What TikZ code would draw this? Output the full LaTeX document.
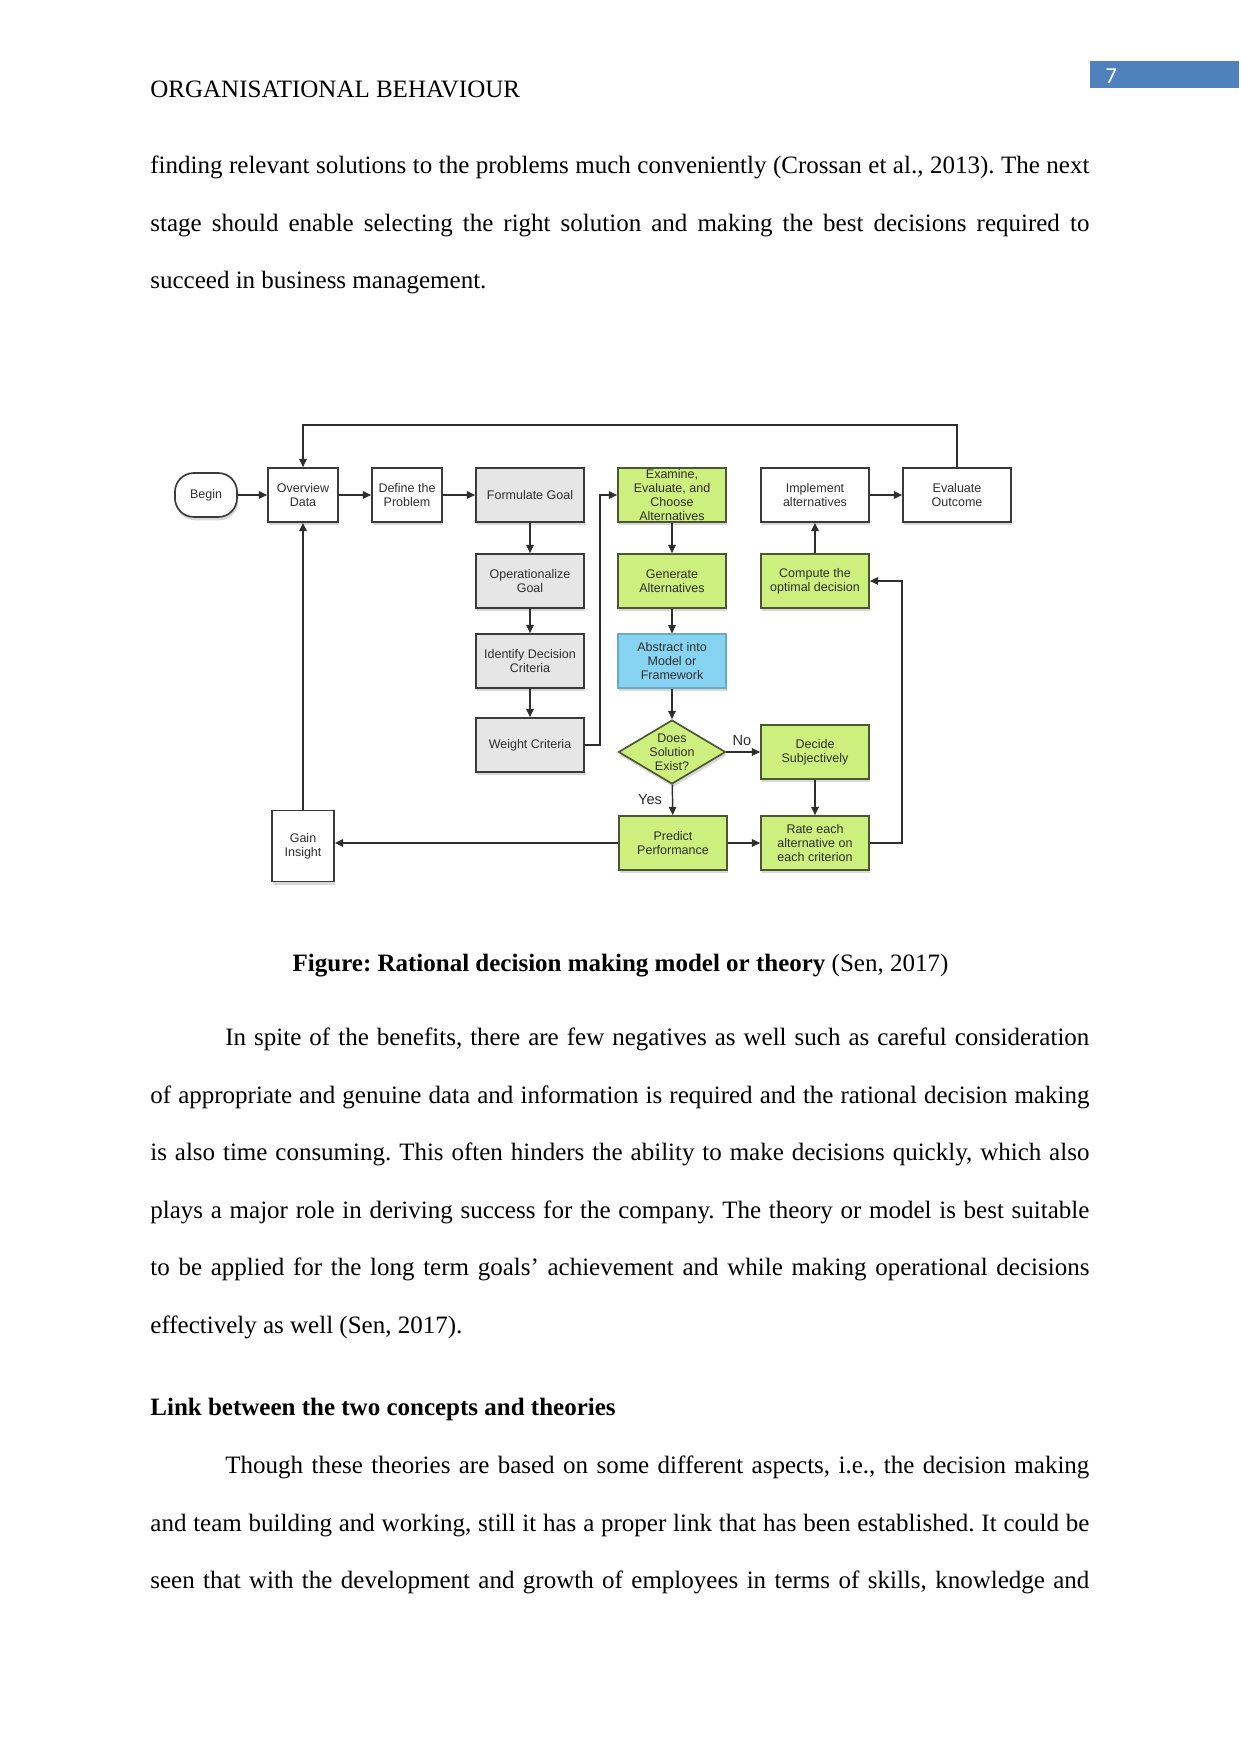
\documentclass[tikz,border=0pt]{standalone}
\usepackage{fontspec}
\setmainfont{Liberation Serif}
\newfontfamily\flowfont{Liberation Sans}
\newfontfamily\pagefont{Carlito}
\usepackage{xcolor}
\usepackage{tikz}
\usetikzlibrary{shapes.geometric,arrows.meta,shadows}
\definecolor{okfill}{HTML}{CDEF7D}
\definecolor{okedge}{HTML}{4B5635}
\definecolor{skyfill}{HTML}{86D3F2}
\definecolor{greyfill}{HTML}{E6E6E6}
\definecolor{edge}{HTML}{3A3A3A}
\definecolor{ink}{HTML}{2E2E2E}
\definecolor{pageblue}{HTML}{4F81BD}
\newcommand{\firstline}{\rule{0pt}{12pt}}
\tolerance=10000
\hyphenpenalty=10000
\frenchspacing

\begin{document}
\begin{tikzpicture}[
    x=0.48pt, y=-0.48pt,
    box/.style={draw=edge,line width=0.8pt,fill=white,minimum width=51.84pt,minimum height=25.92pt,inner sep=0pt,align=center,text=ink,font=\flowfont\fontsize{6}{6.8}\selectfont,drop shadow={shadow xshift=0.6pt,shadow yshift=-1.6pt,opacity=0.3}},
    nbox/.style={box,minimum width=33.6pt},
    gbox/.style={box,fill=greyfill},
    okbox/.style={box,fill=okfill,draw=okedge},
    abox/.style={box,fill=skyfill,draw=skyfill!80!black,line width=0.5pt},
    entry/.style={box,minimum width=29.76pt,minimum height=21.12pt,rounded corners=9pt},
    test/.style={box,diamond,fill=okfill,draw=okedge,shape aspect=1.7,inner sep=-2pt,minimum width=51.4pt,minimum height=30.7pt},
    flag/.style={inner sep=0pt,text=ink,font=\flowfont\fontsize{7}{8}\selectfont},
    arrow/.style={-{Triangle[length=4pt,width=3.6pt]},line width=0.7pt,draw=ink},
    textblock/.style={anchor=north west,inner sep=0pt,text width=450.7pt,align=justify,font=\fontsize{12}{27.65}\selectfont}
  ]
    \useasboundingbox (0,0) rectangle (1241,1754);
    \fill[white] (0,0) rectangle (1241,1754);

    % page head
    \fill[pageblue] (1090,61) rectangle (1239,88);
    \node[anchor=base west,inner sep=0pt,text=white,font=\pagefont\fontsize{11}{12}\selectfont] (pageno) at (1105,83) {7};
    \node[anchor=base west,inner sep=0pt,font=\fontsize{12}{14}\selectfont] (header) at (150,97) {ORGANISATIONAL BEHAVIOUR};

    \node[textblock] (para1) at (150,148) {\noindent\firstline finding relevant solutions to the problems much conveniently (Crossan et al., 2013). The next\linebreak
      stage should enable selecting the right solution and making the best decisions required to\linebreak
      succeed in business management.};

    % flow chart
    \node[entry] (begin) at (206,495) {Begin};
    \node[nbox] (overview) at (303,495) {Overview\\Data};
    \node[nbox] (define) at (407,495) {Define the\\Problem};
    \node[gbox] (goal) at (530,495) {Formulate Goal};
    \node[gbox] (opgoal) at (530,581) {Operationalize\\Goal};
    \node[gbox] (criteria) at (530,661) {Identify Decision\\Criteria};
    \node[gbox] (weight) at (530,745) {Weight Criteria};

    \node[okbox] (examine) at (672,495) {Examine,\\Evaluate, and\\Choose\\Alternatives};
    \node[okbox] (generate) at (672,581) {Generate\\Alternatives};
    \node[abox] (abstract) at (672,661) {Abstract into\\Model or\\Framework};
    \node[test] (exists) at (672,752) {Does\\Solution\\Exist?};
    \node[okbox] (predict) at (673,843) {Predict\\Performance};

    \node[box] (implement) at (815,495) {Implement\\alternatives};
    \node[box] (outcome) at (957,495) {Evaluate\\Outcome};
    \node[okbox] (compute) at (815,581) {Compute the\\optimal decision};
    \node[okbox] (decide) at (815,752) {Decide\\Subjectively};
    \node[okbox] (rate) at (815,843) {Rate each\\alternative on\\each criterion};

    \node[box,minimum width=29.76pt,minimum height=34.08pt] (gain) at (303,846) {Gain\\Insight};

    \node[flag] (no) at (742,741) {No};
    \node[flag] (yes) at (650,800) {Yes};

    \draw[arrow] (begin) -- (overview);
    \draw[arrow] (overview) -- (define);
    \draw[arrow] (define) -- (goal);
    \draw[arrow] (goal) -- (opgoal);
    \draw[arrow] (opgoal) -- (criteria);
    \draw[arrow] (criteria) -- (weight);
    \draw[arrow] (weight.east) -- ++(15,0) |- (examine.west);
    \draw[arrow] (examine) -- (generate);
    \draw[arrow] (generate) -- (abstract);
    \draw[arrow] (abstract) -- (exists);
    \draw[arrow] (exists) -- (decide);
    \draw[arrow] (exists) -- (predict);
    \draw[arrow] (decide) -- (rate);
    \draw[arrow] (predict) -- (rate);
    \draw[arrow] (rate.east) -- ++(32,0) |- (compute.east);
    \draw[arrow] (compute) -- (implement);
    \draw[arrow] (implement) -- (outcome);
    \draw[arrow] (outcome.north) -- ++(0,-42) -| (overview.north);
    \draw[arrow] (predict.west) -- (predict.west -| gain.east);
    \draw[arrow] (gain) -- (overview);

    % text below the chart
    \node[anchor=base,inner sep=0pt,font=\fontsize{12}{14}\selectfont] (caption) at (620.5,971) {\textbf{Figure: Rational decision making model or theory} (Sen, 2017)};

    \node[textblock] (para2) at (150,1020) {\noindent\hspace*{36pt}\firstline In spite of the benefits, there are few negatives as well such as careful consideration\linebreak
      of appropriate and genuine data and information is required and the rational decision making\linebreak
      is also time consuming. This often hinders the ability to make decisions quickly, which also\linebreak
      plays a major role in deriving success for the company. The theory or model is best suitable\linebreak
      to be applied for the long term goals’ achievement and while making operational decisions\linebreak
      effectively as well (Sen, 2017).};

    \node[anchor=base west,inner sep=0pt,font=\fontsize{12}{14}\selectfont] (heading) at (150,1415) {\textbf{Link between the two concepts and theories}};

    \node[textblock] (para3) at (150,1448) {\noindent\hspace*{36pt}\firstline Though these theories are based on some different aspects, i.e., the decision making\linebreak
      and team building and working, still it has a proper link that has been established. It could be\linebreak
      seen that with the development and growth of employees in terms of skills, knowledge and\parfillskip=0pt\par};
  \end{tikzpicture}
\end{document}
